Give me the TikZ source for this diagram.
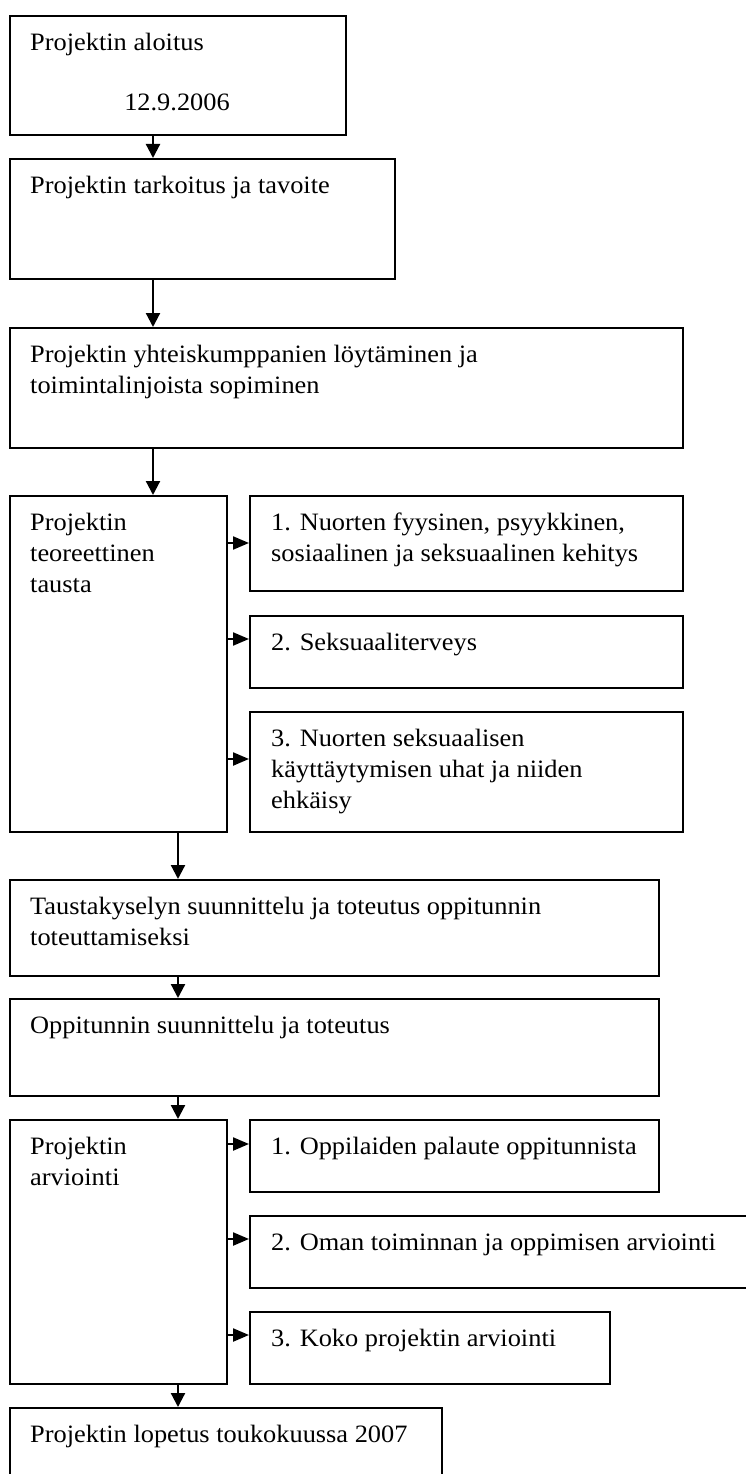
\documentclass[tikz,border=0pt]{standalone}
\usepackage{fontspec}
\setmainfont[FakeStretch=1.055]{Liberation Serif}
\usetikzlibrary{arrows.meta}
\tikzset{
  box/.style={draw=black, line width=2pt, rectangle, inner sep=0pt, anchor=north west},
  txt/.style={anchor=north west, inner sep=0pt, align=left, font=\fontsize{25}{31}\selectfont},
  vArr/.style={line width=2.2pt, -{Triangle[length=14pt,width=14pt]}},
  hArr/.style={line width=2.2pt, -{Triangle[length=16pt,width=13pt]}}
}
\begin{document}
\begin{tikzpicture}[x=1pt,y=-1pt]
\useasboundingbox (0,0) rectangle (745,1474);
\fill[white] (0,0) rectangle (745,1474);
% boxes
\node[box, minimum width=336pt, minimum height=119pt] (b1) at (9,15) {};
\node[box, minimum width=385pt, minimum height=120pt] (b2) at (9,158) {};
\node[box, minimum width=673pt, minimum height=120pt] (b3) at (9,327) {};
\node[box, minimum width=217pt, minimum height=336pt] (b4) at (9,495) {};
\node[box, minimum width=433pt, minimum height=95pt] (s1) at (249,495) {};
\node[box, minimum width=433pt, minimum height=72pt] (s2) at (249,615) {};
\node[box, minimum width=433pt, minimum height=120pt] (s3) at (249,711) {};
\node[box, minimum width=649pt, minimum height=96pt] (b5) at (9,879) {};
\node[box, minimum width=649pt, minimum height=97pt] (b6) at (9,998) {};
\node[box, minimum width=217pt, minimum height=264pt] (b7) at (9,1119) {};
\node[box, minimum width=409pt, minimum height=72pt] (s4) at (249,1119) {};
\node[box, minimum width=520pt, minimum height=72pt] (s5) at (249,1215) {};
\node[box, minimum width=360pt, minimum height=72pt] (s6) at (249,1311) {};
\node[box, minimum width=432pt, minimum height=90pt] (b8) at (9,1407) {};
% texts
\node[txt] (t1) at (30,28.3) {\strut Projektin aloitus};
\node[txt, anchor=north] (t1b) at (177,88.3) {\strut 12.9.2006};
\node[txt] (t2) at (30,171.3) {\strut Projektin tarkoitus ja tavoite};
\node[txt] (t3) at (30,340.3) {\strut Projektin yhteiskumppanien löytäminen ja\\toimintalinjoista sopiminen};
\node[txt] (t4) at (30,508.3) {\strut Projektin\\teoreettinen\\tausta};
\node[txt] (ts1) at (271,508.3) {\strut 1. Nuorten fyysinen, psyykkinen,\\sosiaalinen ja seksuaalinen kehitys};
\node[txt] (ts2) at (271,628.3) {\strut 2. Seksuaaliterveys};
\node[txt] (ts3) at (271,724.3) {\strut 3. Nuorten seksuaalisen\\käyttäytymisen uhat ja niiden\\ehkäisy};
\node[txt] (t5) at (30,892.3) {\strut Taustakyselyn suunnittelu ja toteutus oppitunnin\\toteuttamiseksi};
\node[txt] (t6) at (30,1011.3) {\strut Oppitunnin suunnittelu ja toteutus};
\node[txt] (t7) at (30,1132.3) {\strut Projektin\\arviointi};
\node[txt] (ts4) at (271,1132.3) {\strut 1. Oppilaiden palaute oppitunnista};
\node[txt] (ts5) at (271,1228.3) {\strut 2. Oman toiminnan ja oppimisen arviointi};
\node[txt] (ts6) at (271,1324.3) {\strut 3. Koko projektin arviointi};
\node[txt] (t8) at (30,1420.3) {\strut Projektin lopetus toukokuussa 2007};
% vertical arrows
\draw[vArr] ([xshift=144pt]b1.south west) -- ([xshift=144pt]b1.south west |- b2.north);
\draw[vArr] ([xshift=144pt]b2.south west) -- ([xshift=144pt]b2.south west |- b3.north);
\draw[vArr] ([xshift=144pt]b3.south west) -- ([xshift=144pt]b3.south west |- b4.north);
\draw[vArr] ([xshift=169pt]b4.south west) -- ([xshift=169pt]b4.south west |- b5.north);
\draw[vArr] ([xshift=169pt]b5.south west) -- ([xshift=169pt]b5.south west |- b6.north);
\draw[vArr] ([xshift=169pt]b6.south west) -- ([xshift=169pt]b6.south west |- b7.north);
\draw[vArr] ([xshift=169pt]b7.south west) -- ([xshift=169pt]b7.south west |- b8.north);
% side arrows
\draw[hArr] ([yshift=-48pt]b4.north east) -- ([yshift=-48pt]b4.north east -| s1.west);
\draw[hArr] ([yshift=-144pt]b4.north east) -- ([yshift=-144pt]b4.north east -| s2.west);
\draw[hArr] ([yshift=-264pt]b4.north east) -- ([yshift=-264pt]b4.north east -| s3.west);
\draw[hArr] ([yshift=-25pt]b7.north east) -- ([yshift=-25pt]b7.north east -| s4.west);
\draw[hArr] ([yshift=-120pt]b7.north east) -- ([yshift=-120pt]b7.north east -| s5.west);
\draw[hArr] ([yshift=-216pt]b7.north east) -- ([yshift=-216pt]b7.north east -| s6.west);
\end{tikzpicture}
\end{document}
